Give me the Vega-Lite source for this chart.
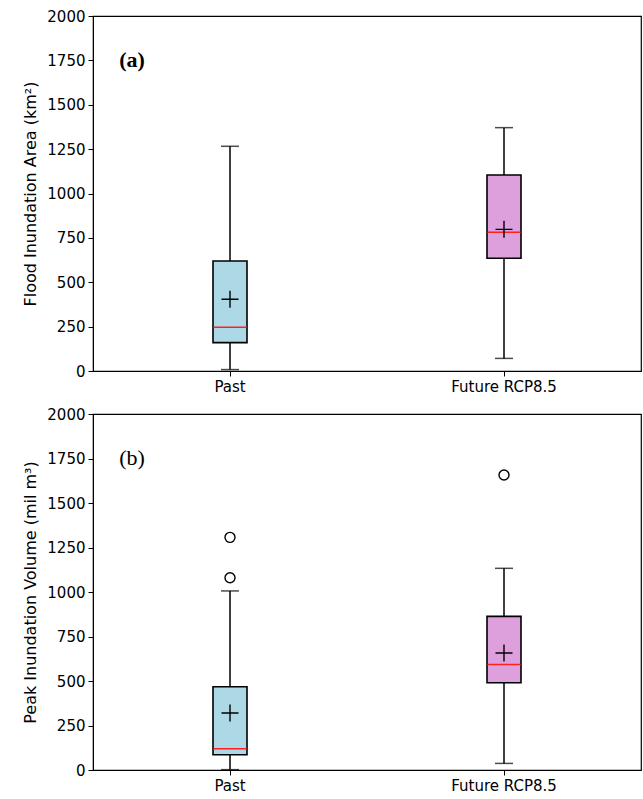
{
  "$schema": "https://vega.github.io/schema/vega-lite/v6.json",
  "background": "white",
  "padding": {"left": 22, "top": 8, "right": 3, "bottom": 5},
  "spacing": 11,
  "config": {
    "font": "DejaVu Sans",
    "view": {"stroke": "black", "strokeWidth": 1.2},
    "axis": {"labelFont": "DejaVu Sans", "titleFont": "DejaVu Sans", "labelFontSize": 15, "titleFontSize": 16, "labelColor": "black", "titleColor": "black", "titleFontWeight": "normal", "domainColor": "black", "tickColor": "black", "grid": false, "tickSize": 5, "labelPadding": 3, "titlePadding": 8}
  },
  "datasets": {
    "boxA": [
      {"cat": "Past", "lo": 8, "q1": 160, "med": 247, "q3": 620, "hi": 1266, "mean": 404},
      {"cat": "Future RCP8.5", "lo": 71, "q1": 635, "med": 781, "q3": 1104, "hi": 1371, "mean": 798}
    ],
    "boxB": [
      {"cat": "Past", "lo": 2, "q1": 86, "med": 120, "q3": 468, "hi": 1006, "mean": 320},
      {"cat": "Future RCP8.5", "lo": 37, "q1": 490, "med": 592, "q3": 863, "hi": 1133, "mean": 657}
    ],
    "outB": [
      {"cat": "Past", "v": 1307},
      {"cat": "Past", "v": 1080},
      {"cat": "Future RCP8.5", "v": 1657}
    ],
    "labA": [{"cat": "Past", "y": 1752, "label": "(a)"}],
    "labB": [{"cat": "Past", "y": 1752, "label": "(b)"}]
  },
  "vconcat": [
    {
      "width": 548,
      "height": 355,
      "encoding": {
        "x": {"field": "cat", "type": "nominal", "sort": ["Past", "Future RCP8.5"], "title": null, "scale": {"type": "band", "paddingInner": 0, "paddingOuter": 0}, "axis": {"labelAngle": 0}}
      },
      "layer": [
        {"data": {"name": "boxA"}, "mark": {"type": "rule", "color": "black", "strokeWidth": 1.5}, "encoding": {"y": {"field": "lo", "type": "quantitative", "scale": {"domain": [0, 2000], "nice": false}, "axis": {"values": [0, 250, 500, 750, 1000, 1250, 1500, 1750, 2000], "format": "d"}, "title": "Flood Inundation Area (km²)"}, "y2": {"field": "q1"}}},
        {"data": {"name": "boxA"}, "mark": {"type": "rule", "color": "black", "strokeWidth": 1.5}, "encoding": {"y": {"field": "q3", "type": "quantitative"}, "y2": {"field": "hi"}}},
        {"data": {"name": "boxA"}, "mark": {"type": "tick", "color": "black", "thickness": 1.5, "size": 18}, "encoding": {"y": {"field": "lo", "type": "quantitative"}}},
        {"data": {"name": "boxA"}, "mark": {"type": "tick", "color": "black", "thickness": 1.5, "size": 18}, "encoding": {"y": {"field": "hi", "type": "quantitative"}}},
        {"data": {"name": "boxA"}, "mark": {"type": "bar", "size": 34, "stroke": "black", "strokeWidth": 1.6, "opacity": 1}, "encoding": {"y": {"field": "q1", "type": "quantitative"}, "y2": {"field": "q3"}, "fill": {"field": "cat", "type": "nominal", "scale": {"domain": ["Past", "Future RCP8.5"], "range": ["#add8e6", "#dda0dd"]}, "legend": null}}},
        {"data": {"name": "boxA"}, "mark": {"type": "tick", "color": "#ff2020", "thickness": 1.5, "size": 33, "opacity": 1}, "encoding": {"y": {"field": "med", "type": "quantitative"}}},
        {"data": {"name": "boxA"}, "mark": {"type": "point", "shape": "M-1,0H1M0,-1V1", "size": 289, "filled": false, "stroke": "black", "strokeWidth": 1.4, "opacity": 1}, "encoding": {"y": {"field": "mean", "type": "quantitative"}}},
        {"data": {"name": "labA"}, "mark": {"type": "text", "font": "Liberation Serif", "fontSize": 22, "fontWeight": "bold", "align": "center", "baseline": "middle", "dx": -98, "color": "black"}, "encoding": {"y": {"field": "y", "type": "quantitative"}, "text": {"field": "label"}}}
      ]
    },
    {
      "width": 548,
      "height": 356,
      "encoding": {
        "x": {"field": "cat", "type": "nominal", "sort": ["Past", "Future RCP8.5"], "title": null, "scale": {"type": "band", "paddingInner": 0, "paddingOuter": 0}, "axis": {"labelAngle": 0}}
      },
      "layer": [
        {"data": {"name": "boxB"}, "mark": {"type": "rule", "color": "black", "strokeWidth": 1.5}, "encoding": {"y": {"field": "lo", "type": "quantitative", "scale": {"domain": [0, 2000], "nice": false}, "axis": {"values": [0, 250, 500, 750, 1000, 1250, 1500, 1750, 2000], "format": "d"}, "title": "Peak Inundation Volume (mil m³)"}, "y2": {"field": "q1"}}},
        {"data": {"name": "boxB"}, "mark": {"type": "rule", "color": "black", "strokeWidth": 1.5}, "encoding": {"y": {"field": "q3", "type": "quantitative"}, "y2": {"field": "hi"}}},
        {"data": {"name": "boxB"}, "mark": {"type": "tick", "color": "black", "thickness": 1.5, "size": 18}, "encoding": {"y": {"field": "lo", "type": "quantitative"}}},
        {"data": {"name": "boxB"}, "mark": {"type": "tick", "color": "black", "thickness": 1.5, "size": 18}, "encoding": {"y": {"field": "hi", "type": "quantitative"}}},
        {"data": {"name": "boxB"}, "mark": {"type": "bar", "size": 34, "stroke": "black", "strokeWidth": 1.6, "opacity": 1}, "encoding": {"y": {"field": "q1", "type": "quantitative"}, "y2": {"field": "q3"}, "fill": {"field": "cat", "type": "nominal", "scale": {"domain": ["Past", "Future RCP8.5"], "range": ["#add8e6", "#dda0dd"]}, "legend": null}}},
        {"data": {"name": "boxB"}, "mark": {"type": "tick", "color": "#ff2020", "thickness": 1.5, "size": 33, "opacity": 1}, "encoding": {"y": {"field": "med", "type": "quantitative"}}},
        {"data": {"name": "boxB"}, "mark": {"type": "point", "shape": "M-1,0H1M0,-1V1", "size": 289, "filled": false, "stroke": "black", "strokeWidth": 1.4, "opacity": 1}, "encoding": {"y": {"field": "mean", "type": "quantitative"}}},
        {"data": {"name": "outB"}, "mark": {"type": "point", "shape": "circle", "size": 100, "filled": false, "stroke": "black", "strokeWidth": 1.4, "opacity": 1}, "encoding": {"y": {"field": "v", "type": "quantitative"}}},
        {"data": {"name": "labB"}, "mark": {"type": "text", "font": "Liberation Serif", "fontSize": 22, "align": "center", "baseline": "middle", "dx": -98, "color": "black"}, "encoding": {"y": {"field": "y", "type": "quantitative"}, "text": {"field": "label"}}}
      ]
    }
  ]
}
